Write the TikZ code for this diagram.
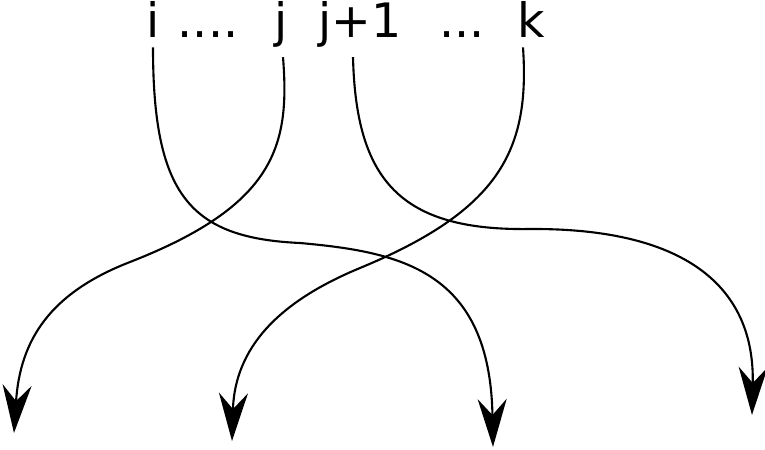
\documentclass[tikz,border=0pt]{standalone}
\usepackage{fontspec}
\setmainfont{DejaVu Sans}
\usetikzlibrary{arrows.meta, positioning}

\begin{document}
\begin{tikzpicture}[
  x=0.02cm, y=-0.02cm,
  lbl/.style={anchor=base, inner sep=0.2cm, font=\fontsize{27}{32}\selectfont},
  strand/.style={-{Stealth[length=0.96cm, width=0.58cm, inset=0.32cm]}, line width=1.2pt}
]
\useasboundingbox (0,0) rectangle (765,450);
% === Top row: indices ===
\node[lbl] (i) at (153,37) {i};
\node[lbl] (d1) at (208,37) {....};
\node[lbl] (j) at (281,37) {j};
\node[lbl] (jj) at (360,37) {j+1};
\node[lbl] (d2) at (462,37) {...};
\node[lbl] (k) at (531,37) {k};
% === Bottom: free ends of the strands ===
\coordinate (ei) at (493,447);
\coordinate (ej) at (14,433);
\coordinate (ejj) at (752,415);
\coordinate (ek) at (232,441);
% === Strands ===
\draw[strand] (i.south) .. controls (153,195) and (190,238) .. (300,243)
  .. controls (400,252) and (490,270) .. (ei);
\draw[strand] ([xshift=0.04cm]j.south) .. controls (290,145) and (276,205) .. (130,262)
  .. controls (50,293) and (20,340) .. (ej);
\draw[strand] ([xshift=-0.14cm]jj.south) .. controls (356,180) and (400,231) .. (530,229)
  .. controls (690,228) and (755,290) .. (ejj);
\draw[strand] ([xshift=-0.16cm]k.south) .. controls (530,150) and (500,210) .. (360,268)
  .. controls (290,297) and (235,340) .. (ek);
\end{tikzpicture}
\end{document}
